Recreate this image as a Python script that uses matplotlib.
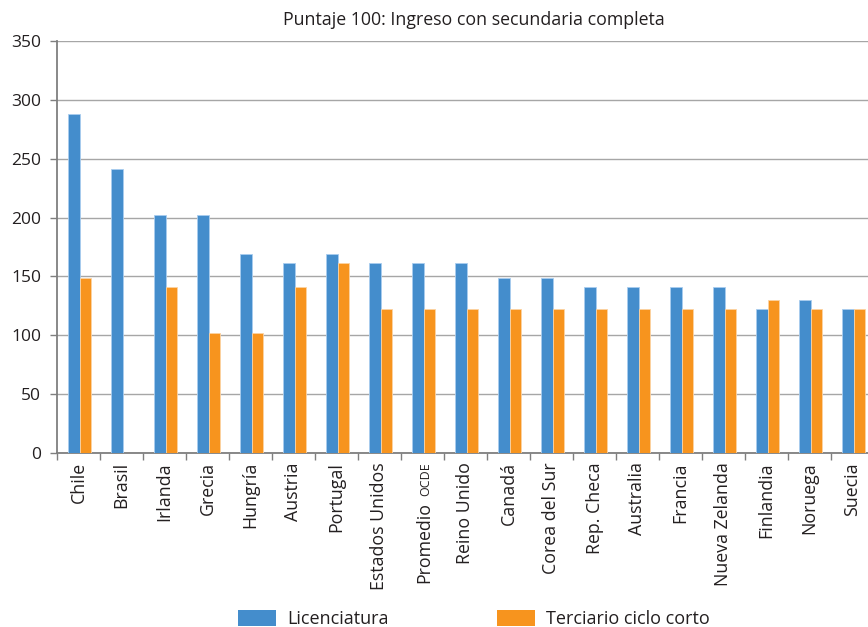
import matplotlib
matplotlib.use("Agg")
import matplotlib.pyplot as plt
import numpy as np
from matplotlib.patches import Patch

plt.rcParams['font.family'] = ['Open Sans', 'DejaVu Sans']

countries = ["Chile", "Brasil", "Irlanda", "Grecia", "Hungría", "Austria", "Portugal",
             "Estados Unidos", "Promedio OCDE", "Reino Unido", "Canadá", "Corea del Sur",
             "Rep. Checa", "Australia", "Francia", "Nueva Zelanda", "Finlandia",
             "Noruega", "Suecia"]
licenciatura = [288, 241, 202, 202, 169, 161, 169, 161, 161, 161, 149, 149,
                141, 141, 141, 141, 122, 130, 122]
terciario = [149, np.nan, 141, 102, 102, 141, 161, 122, 122, 122, 122, 122,
             122, 122, 122, 122, 130, 122, 122]
yticks = [0, 50, 100, 150, 200, 250, 300, 350]
title = "Puntaje 100: Ingreso con secundaria completa"
series_names = ["Licenciatura", "Terciario ciclo corto"]

BLUE = "#448dcc"
ORANGE = "#f7941e"
GRID = "#a6a6a6"
AXIS = "#7f7f7f"
TEXT = "#231f20"

fig = plt.figure(figsize=(8.68, 6.27), dpi=100)
ax = fig.add_axes([57 / 868, 1 - 453 / 627, (874 - 57) / 868, (453 - 41) / 627])

x = np.arange(len(countries))
w = 0.265
ax.bar(x - w / 2 + 0.03, licenciatura, w, color=BLUE, edgecolor="#a9cdef",
       linewidth=0.6, zorder=3)
ax.bar(x + w / 2 + 0.03, terciario, w, color=ORANGE, edgecolor="#fcd3a3",
       linewidth=0.6, zorder=3)

ax.set_xlim(-0.5, len(countries) - 0.5)
ax.set_ylim(0, 350)
ax.set_yticks(yticks)
ax.tick_params(axis='y', labelsize=12.5, length=5, color=AXIS, width=1, pad=6.5,
               labelcolor=TEXT)
ax.yaxis.grid(True, color=GRID, linewidth=1, zorder=0)
ax.set_axisbelow(True)

# category labels centred, tick marks on category boundaries
ax.set_xticks(x)
labels = [c if c != "Promedio OCDE" else "" for c in countries]
ax.set_xticklabels(labels, rotation=90, fontsize=12.8, color=TEXT)
ax.tick_params(axis='x', which='major', length=0, pad=6.5)
ax.set_xticks(np.arange(-0.5, len(countries)), minor=True)
ax.tick_params(axis='x', which='minor', length=5, color=AXIS, width=1)

# "Promedio OCDE" with the acronym in a smaller size
i_avg = countries.index("Promedio OCDE")
ocde = ax.annotate("OCDE", xy=(i_avg + 0.08, 0), xycoords=('data', 'axes fraction'),
                   xytext=(0, -7), textcoords='offset points', rotation=90,
                   ha='center', va='top', fontsize=9, color=TEXT)
ax.annotate("Promedio", xy=(0.5, 0), xycoords=ocde, xytext=(-1.2, -4),
            textcoords='offset points', rotation=90, ha='center', va='top',
            fontsize=12.8, color=TEXT)

for side in ('top', 'right'):
    ax.spines[side].set_visible(False)
for side in ('left', 'bottom'):
    ax.spines[side].set_color(AXIS)
    ax.spines[side].set_linewidth(1.3)

fig.text(474 / 868, 1 - 20 / 627, title, ha='center', va='center',
         fontsize=12.8, color=TEXT)

handles = [Patch(facecolor=BLUE), Patch(facecolor=ORANGE)]
fig.legend(handles, series_names, loc='center', bbox_to_anchor=(474 / 868, 1 - 619 / 627),
           ncol=2, frameon=False, fontsize=13, handlelength=2.1, handleheight=0.95,
           handletextpad=0.6, columnspacing=6.0, labelcolor=TEXT)

fig.savefig("out.png", dpi=100)
